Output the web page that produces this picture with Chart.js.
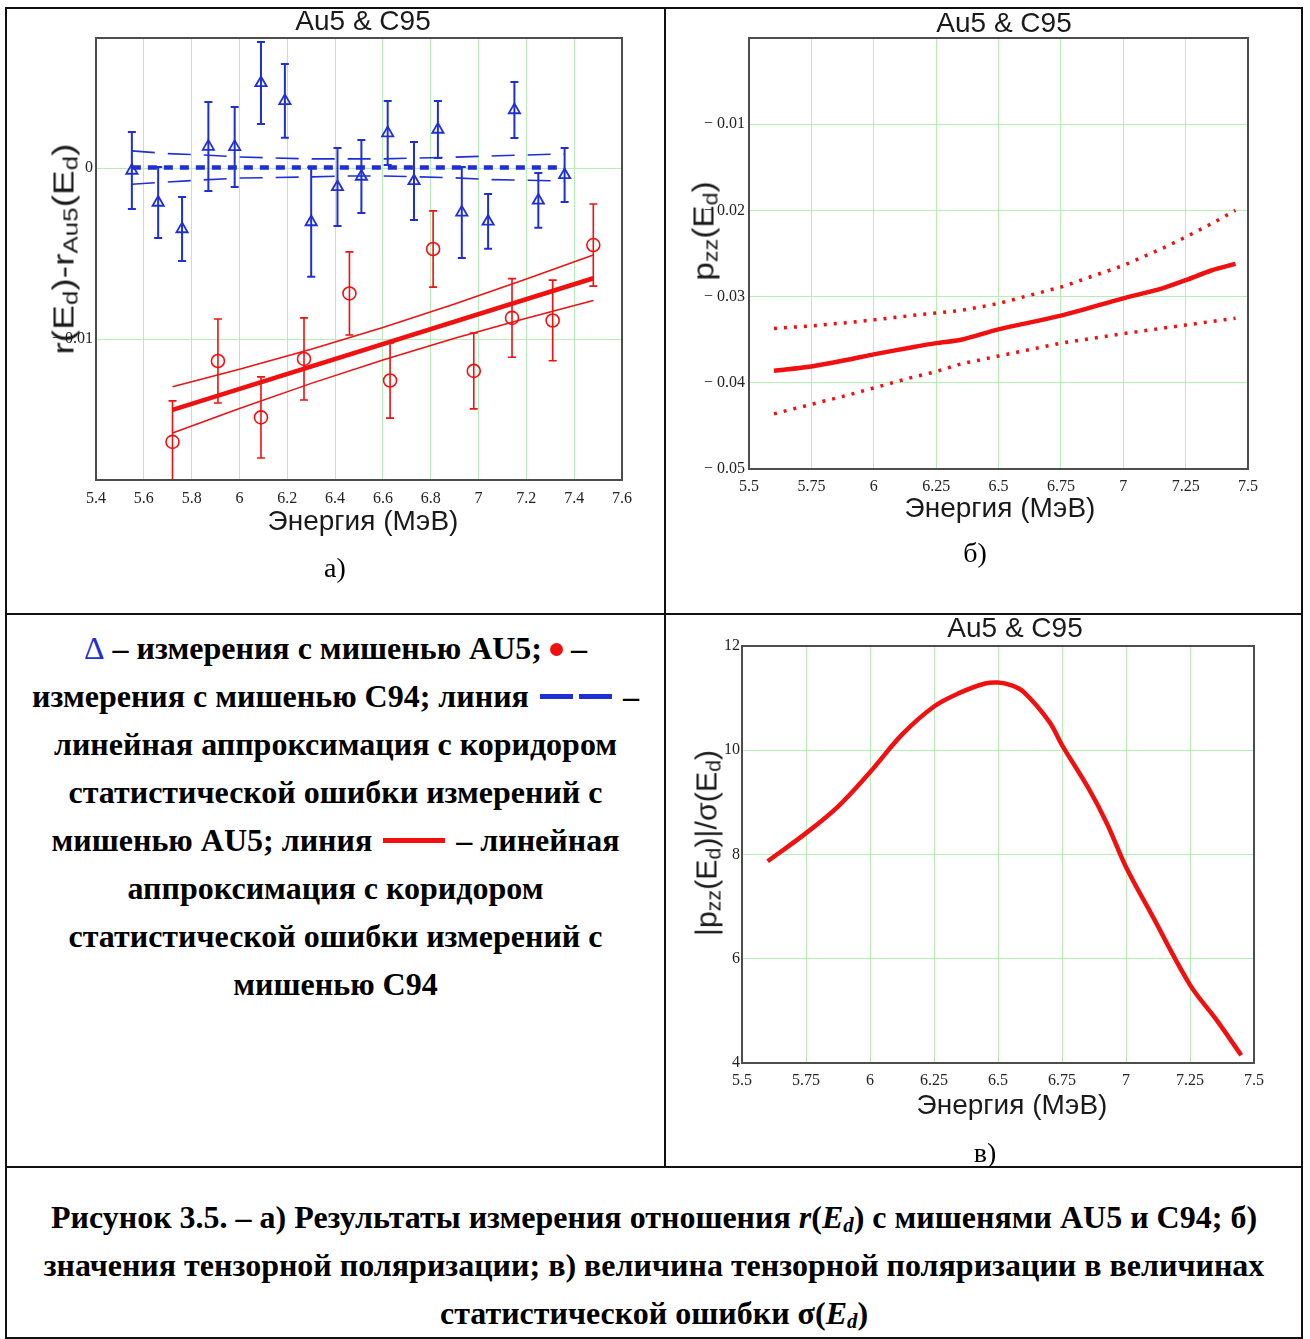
<!DOCTYPE html>
<html>
<head>
<meta charset="utf-8">
<script src="https://cdn.jsdelivr.net/npm/chart.js@4"></script>
<style>
  body { margin: 0; background: #fff; }
  #page { position: relative; width: 1310px; height: 1339px; overflow: hidden; background: #fff; }
  canvas { position: absolute; }
  .ln { position: absolute; background: #111; }
  .t { position: absolute; white-space: nowrap; line-height: 1; transform: translate(-50%, -50%); color: #1a1a1a; }
  .sans { font-family: "Liberation Sans", Arial, sans-serif; font-size: 28px; }
  .rot { font-size: 29px; }
  .t sub { font-size: 0.7em; vertical-align: -0.22em; line-height: 0; }
  .serif { font-family: "Liberation Serif", "Times New Roman", serif; font-size: 28px; color: #000; }
  #legend { position: absolute; left: 8px; width: 655px; top: 624px; text-align: center;
            font: bold 32px/48px "Liberation Serif", "Times New Roman", serif; color: #000; }
  #legend .tri { color: #1f2fd6; font-weight: normal; }
  #legend .dot { display: inline-block; width: 13px; height: 13px; border-radius: 50%; background: #f01010; vertical-align: 3px; }
  #legend .bd { display: inline-block; width: 33px; height: 5px; background: #1f2fd6; vertical-align: 8px; margin: 0 3px; }
  #legend .rl { display: inline-block; width: 62px; height: 5px; background: #f01010; vertical-align: 8px; margin: 0 3px; }
  #caption { position: absolute; left: 6px; width: 1296px; top: 1193px; text-align: center;
             font: bold 32px/48px "Liberation Serif", "Times New Roman", serif; color: #000; }
  #caption sub { font-size: 0.65em; vertical-align: -0.2em; line-height: 0; }
</style>
</head>
<body>
<div id="page">
  <div class="ln" style="left:5px;top:7px;width:1298px;height:2px"></div>
  <div class="ln" style="left:5px;top:613px;width:1298px;height:2px"></div>
  <div class="ln" style="left:5px;top:1166px;width:1298px;height:2px"></div>
  <div class="ln" style="left:5px;top:1337px;width:1298px;height:2px"></div>
  <div class="ln" style="left:5px;top:7px;width:2px;height:1332px"></div>
  <div class="ln" style="left:1301px;top:7px;width:2px;height:1332px"></div>
  <div class="ln" style="left:664px;top:7px;width:2px;height:1161px"></div>

  <canvas id="chartA" width="640" height="500" style="left:10px;top:18px"></canvas>
  <canvas id="chartB" width="615" height="490" style="left:670px;top:18px"></canvas>
  <canvas id="chartC" width="615" height="480" style="left:670px;top:620px"></canvas>

  <div class="t sans" style="left:363px;top:21px">Au5 &amp; C95</div>
  <div class="t sans rot" style="left:64px;top:249px;transform:translate(-50%,-50%) rotate(-90deg) scaleX(1.28)">r(E<sub>d</sub>)-r<sub>Au5</sub>(E<sub>d</sub>)</div>
  <div class="t sans" style="left:363px;top:521px">Энергия (МэВ)</div>
  <div class="t serif" style="left:335px;top:568px">а)</div>

  <div class="t sans" style="left:1004px;top:23px">Au5 &amp; C95</div>
  <div class="t sans rot" style="left:704px;top:231px;transform:translate(-50%,-50%) rotate(-90deg) scaleX(1.15)">p<sub>zz</sub>(E<sub>d</sub>)</div>
  <div class="t sans" style="left:1000px;top:508px">Энергия (МэВ)</div>
  <div class="t serif" style="left:975px;top:553px">б)</div>

  <div class="t sans" style="left:1015px;top:628px">Au5 &amp; C95</div>
  <div class="t sans rot" style="left:707px;top:843px;transform:translate(-50%,-50%) rotate(-90deg) scaleX(1.05)">|p<sub>zz</sub>(E<sub>d</sub>)|/σ(E<sub>d</sub>)</div>
  <div class="t sans" style="left:1012px;top:1105px">Энергия (МэВ)</div>
  <div class="t serif" style="left:985px;top:1153px">в)</div>

  <div id="legend">
    <span class="tri">Δ</span> – измерения с мишенью AU5; <span class="dot"></span> –<br>
    измерения с мишенью C94; линия <span class="bd"></span><span class="bd"></span> –<br>
    линейная аппроксимация с коридором<br>
    статистической ошибки измерений с<br>
    мишенью AU5; линия <span class="rl"></span> – линейная<br>
    аппроксимация с коридором<br>
    статистической ошибки измерений с<br>
    мишенью C94
  </div>

  <div id="caption">
    Рисунок 3.5. – а) Результаты измерения отношения <i>r</i>(<i>E<sub>d</sub></i>) с мишенями AU5 и C94; б)<br>
    значения тензорной поляризации; в) величина тензорной поляризации в величинах<br>
    статистической ошибки σ(<i>E<sub>d</sub></i>)
  </div>
</div>

<script>
const BLUE = '#1f2fd6';
const RED = '#f01010';
const GRID = '#b6ecb6';

// а) measurements with the AU5 target
const au5Energy = [5.55, 5.66, 5.76, 5.87, 5.98, 6.09, 6.19, 6.30, 6.41, 6.51, 6.62, 6.73, 6.83, 6.93, 7.04, 7.15, 7.25, 7.36];
const au5Ratio = [-0.00013, -0.0020, -0.00355, 0.00127, 0.00125, 0.00499, 0.00394, -0.00314, -0.00109, -0.00048,
                  0.00206, -0.00074, 0.00227, -0.00258, -0.00311, 0.00341, -0.00188, -0.00039];
const au5Err = [0.00225, 0.00208, 0.00187, 0.0026, 0.00234, 0.0024, 0.00216, 0.0032, 0.00228, 0.00213,
                0.00187, 0.00228, 0.00167, 0.00266, 0.0016, 0.00164, 0.0016, 0.00158];

// а) measurements with the C94 target
const c94Energy = [5.72, 5.91, 6.09, 6.27, 6.46, 6.63, 6.81, 6.98, 7.14, 7.31, 7.48];
const c94Ratio = [-0.0160, -0.01127, -0.01457, -0.01115, -0.00732, -0.01241, -0.00472, -0.01185, -0.00875, -0.0089, -0.00449];
const c94Err = [0.0024, 0.00246, 0.00237, 0.0024, 0.00243, 0.0022, 0.00223, 0.00222, 0.0023, 0.00236, 0.0024];

// а) linear fits with error corridors
const au5FitEnergy = [5.55, 7.36];
const au5Fit = [0.00005, 0.00005];
const au5BandEnergy = [5.55, 5.7, 5.85, 6.0, 6.15, 6.3, 6.45, 6.6, 6.75, 6.9, 7.05, 7.36];
const au5BandUp = [0.00102, 0.00086, 0.00078, 0.00066, 0.0006, 0.00055, 0.00055, 0.00055, 0.0006, 0.00065, 0.00072, 0.00084];
const au5BandLow = [-0.00093, -0.0008, -0.00068, -0.00057, -0.00054, -0.0005, -0.00045, -0.00045, -0.0005, -0.00056, -0.00066, -0.00074];

const c94FitEnergy = [5.72, 7.48];
const c94Fit = [-0.01413, -0.00643];
const c94BandEnergy = [5.72, 6.0, 6.3, 6.6, 6.9, 7.2, 7.48];
const c94BandUp = [-0.01278, -0.01175, -0.01058, -0.00931, -0.00794, -0.00647, -0.00507];
const c94BandLow = [-0.01548, -0.01405, -0.01258, -0.01121, -0.00994, -0.00877, -0.00773];

// б) tensor polarisation
const pzzEnergy = [5.6, 5.75, 5.9, 6.0, 6.15, 6.25, 6.35, 6.5, 6.75, 7.0, 7.15, 7.25, 7.35, 7.45];
const pzz = [-0.0386, -0.0381, -0.0373, -0.0367, -0.0359, -0.0354, -0.0350, -0.0338, -0.0322, -0.0302, -0.0291, -0.0281, -0.0270, -0.0262];
const pzzUp = [-0.0337, -0.0334, -0.0330, -0.0327, -0.0322, -0.0319, -0.0316, -0.0308, -0.0289, -0.0264, -0.0245, -0.0231, -0.0216, -0.0200];
const pzzLow = [-0.0436, -0.0425, -0.0414, -0.0406, -0.0394, -0.0387, -0.0378, -0.0369, -0.0354, -0.0343, -0.0337, -0.0333, -0.0329, -0.0325];

// в) |pzz| / sigma
const sigEnergy = [5.6, 5.75, 5.875, 6.0, 6.125, 6.25, 6.35, 6.45, 6.5, 6.55, 6.6, 6.7, 6.75, 6.85, 6.925, 7.0, 7.1, 7.25, 7.35, 7.45];
const sigRatio = [7.87, 8.41, 8.92, 9.58, 10.3, 10.84, 11.1, 11.28, 11.3, 11.25, 11.12, 10.55, 10.1, 9.3, 8.6, 7.76, 6.85, 5.5, 4.85, 4.15];

// tick positions
const xTicksA = [5.4, 5.6, 5.8, 6, 6.2, 6.4, 6.6, 6.8, 7, 7.2, 7.4, 7.6];
const yTicksA = [-0.01, 0];
const xTicksBC = [5.5, 5.75, 6, 6.25, 6.5, 6.75, 7, 7.25, 7.5];
const yTicksB = [-0.05, -0.04, -0.03, -0.02, -0.01];
const yTicksC = [4, 6, 8, 10, 12];

function pts(xs, ys) {
    return xs.map((x, i) => ({ x: x, y: ys[i] }));
}

function numLabel(v) {
    const s = String(+Math.abs(v).toFixed(3));
    return v < 0 ? '\u2212 ' + s : s;
}

// error bars use the chart's own scales
const errorBars = {
    id: 'errorBars',
    beforeDatasetsDraw(chart) {
        const { ctx, chartArea: a, scales } = chart;
        ctx.save();
        ctx.beginPath();
        ctx.rect(a.left, a.top, a.width, a.height);
        ctx.clip();
        chart.data.datasets.forEach(ds => {
            if (!ds.errors) return;
            ctx.strokeStyle = ds.borderColor;
            ctx.lineWidth = ds.errWidth;
            ds.data.forEach((p, i) => {
                const px = scales.x.getPixelForValue(p.x);
                const top = scales.y.getPixelForValue(p.y + ds.errors[i]);
                const bot = scales.y.getPixelForValue(p.y - ds.errors[i]);
                ctx.beginPath();
                ctx.moveTo(px, top); ctx.lineTo(px, bot);
                ctx.moveTo(px - 4, top); ctx.lineTo(px + 4, top);
                ctx.moveTo(px - 4, bot); ctx.lineTo(px + 4, bot);
                ctx.stroke();
            });
        });
        ctx.restore();
    }
};

const frame = {
    id: 'frame',
    afterDatasetsDraw(chart) {
        const { ctx, chartArea: a } = chart;
        ctx.save();
        ctx.strokeStyle = '#4d4d4d';
        ctx.lineWidth = 2;
        ctx.strokeRect(a.left, a.top, a.width, a.height);
        ctx.restore();
    }
};

function axis(min, max, ticks, size, pad, isX) {
    return {
        type: 'linear',
        min: min,
        max: max,
        afterBuildTicks: s => { s.ticks = ticks.map(v => ({ value: v })); },
        afterFit: s => { if (isX) s.height = size; else s.width = size; },
        grid: { color: GRID, lineWidth: 1, drawTicks: false },
        border: { display: false },
        ticks: {
            padding: pad,
            color: '#222',
            font: { family: 'Liberation Serif', size: 16 },
            callback: v => numLabel(v)
        }
    };
}

function line(xs, ys, color, width, dash) {
    return {
        data: pts(xs, ys),
        showLine: true,
        pointRadius: 0,
        borderColor: color,
        borderWidth: width,
        borderDash: dash || [],
        fill: false
    };
}

function makeChart(id, datasets, scales, padding) {
    return new Chart(document.getElementById(id), {
        type: 'scatter',
        data: { datasets: datasets },
        options: {
            responsive: false,
            animation: false,
            devicePixelRatio: 1,
            layout: { padding: padding },
            plugins: { legend: { display: false }, title: { display: false }, tooltip: { enabled: false } },
            scales: scales
        },
        plugins: [errorBars, frame]
    });
}

function main() {
    // а)
    makeChart('chartA', [
        {
            data: pts(au5Energy, au5Ratio), errors: au5Err, errWidth: 2,
            pointStyle: 'triangle', pointRadius: 6.5, pointBorderWidth: 1.8,
            borderColor: BLUE, backgroundColor: 'rgba(0,0,0,0)'
        },
        {
            data: pts(c94Energy, c94Ratio), errors: c94Err, errWidth: 1.6,
            pointStyle: 'circle', pointRadius: 6.5, pointBorderWidth: 1.6,
            borderColor: RED, backgroundColor: 'rgba(0,0,0,0)'
        },
        line(au5FitEnergy, au5Fit, BLUE, 4.5, [9, 7]),
        line(au5BandEnergy, au5BandUp, BLUE, 1.6, [23, 13]),
        line(au5BandEnergy, au5BandLow, BLUE, 1.6, [23, 13]),
        line(c94FitEnergy, c94Fit, RED, 4.5),
        line(c94BandEnergy, c94BandUp, RED, 1.5),
        line(c94BandEnergy, c94BandLow, RED, 1.5)
    ], {
        x: axis(5.4, 7.6, xTicksA, 38, 9, true),
        y: axis(-0.01823, 0.00762, yTicksA, 86, 3, false)
    }, { top: 20, right: 28, bottom: 0, left: 0 });

    // б)
    const b = line(pzzEnergy, pzz, RED, 4.5);
    b.tension = 0.3;
    makeChart('chartB', [
        b,
        line(pzzEnergy, pzzUp, RED, 3.5, [3, 7]),
        line(pzzEnergy, pzzLow, RED, 3.5, [3, 7])
    ], {
        x: axis(5.5, 7.5, xTicksBC, 39, 8, true),
        y: axis(-0.05, 0, yTicksB, 79, 4, false)
    }, { top: 20, right: 37, bottom: 0, left: 0 });

    // в)
    const c = line(sigEnergy, sigRatio, RED, 4.5);
    c.tension = 0.35;
    makeChart('chartC', [c], {
        x: axis(5.5, 7.5, xTicksBC, 37, 8, true),
        y: axis(4, 12, yTicksC, 72, 2, false)
    }, { top: 26, right: 31, bottom: 0, left: 0 });
}

main();
</script>
</body>
</html>
